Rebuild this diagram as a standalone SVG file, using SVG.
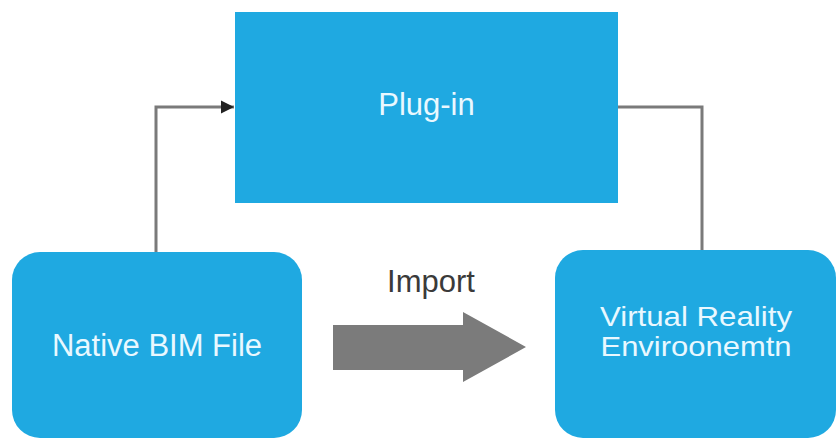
<svg xmlns="http://www.w3.org/2000/svg" width="837" height="441" viewBox="0 0 837 441">
  <style>
    .box { fill: #1fa9e1; }
    .lbl { font-family: "Liberation Sans", Arial, sans-serif; font-size: 31px; fill: #e9f8ff; text-anchor: middle; }
    .lbl2 { font-family: "Liberation Sans", Arial, sans-serif; font-size: 28.5px; fill: #e9f8ff; text-anchor: middle; }
    .link { fill: none; stroke: #7a7a7a; stroke-width: 3; }
    .cap { font-family: "Liberation Sans", Arial, sans-serif; font-size: 31px; fill: #3a3a3a; text-anchor: middle; }
  </style>
  <defs>
    <marker id="head" viewBox="0 0 10 10" refX="10" refY="5" markerWidth="4.5" markerHeight="4.5" orient="auto" markerUnits="strokeWidth">
      <path d="M0,0 L10,5 L0,10 z" fill="#222"/>
    </marker>
  </defs>
  <rect width="837" height="441" fill="#ffffff"/>

  <g id="connectors">
    <path class="link" d="M156,252 V107 H234" marker-end="url(#head)"/>
    <path class="link" d="M618,107 H702 V250"/>
    <g id="import">
      <path d="M333,325 H463 V312 L526,347 L463,382 V370 H333 Z" fill="#7b7b7b"/>
      <text class="cap" x="431" y="292">Import</text>
    </g>
  </g>

  <g id="plugin">
    <rect class="box" x="235" y="12" width="383" height="191"/>
    <text class="lbl" x="426.5" y="115">Plug-in</text>
  </g>

  <g id="native-bim">
    <rect class="box" x="12" y="252" width="290" height="186" rx="28" ry="28"/>
    <text class="lbl" x="157" y="356">Native BIM File</text>
  </g>

  <g id="vr-environment">
    <rect class="box" x="555" y="250" width="281" height="188" rx="28" ry="28"/>
    <text class="lbl2" x="696" y="326" textLength="192" lengthAdjust="spacingAndGlyphs">Virtual Reality</text>
    <text class="lbl2" x="696" y="356" textLength="191" lengthAdjust="spacingAndGlyphs">Enviroonemtn</text>
  </g>
</svg>
